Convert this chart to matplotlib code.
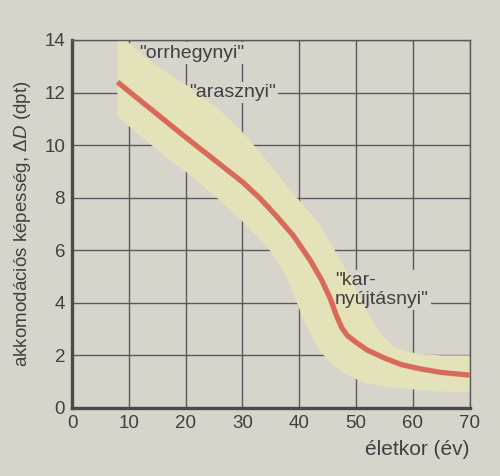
import matplotlib
matplotlib.use("Agg")
import matplotlib.pyplot as plt

# ---- data ----
curve_age = [8, 14, 20, 25, 30, 33, 36, 39, 42, 44, 45.5, 46.5, 47.5, 48.5, 50, 52, 55, 58, 61, 65, 70]
curve_dpt = [12.4, 11.35, 10.3, 9.45, 8.6, 8.0, 7.3, 6.55, 5.6, 4.85, 4.15, 3.55, 3.05, 2.75, 2.5, 2.2, 1.9, 1.65, 1.5, 1.35, 1.25]

band_upper_age = [8, 11, 14.3, 20, 25.7, 30, 33, 36, 39, 42, 44, 46, 47.5, 49.5, 51, 53, 54.5, 56, 57.5, 61, 65, 70]
band_upper_dpt = [14.3, 13.7, 13.1, 12.3, 11.4, 10.5, 9.75, 8.95, 8.15, 7.4, 6.85, 6.1, 5.55, 4.75, 4.05, 3.3, 2.8, 2.45, 2.25, 2.05, 2.0, 2.0]
band_lower_age = [8, 12, 17.4, 20, 25, 30, 33, 35, 37, 39, 40.5, 41.7, 43.5, 45.8, 48, 51, 54, 58, 64, 70]
band_lower_dpt = [11.1, 10.35, 9.4, 9.0, 8.1, 7.1, 6.45, 5.95, 5.3, 4.35, 3.5, 2.95, 2.2, 1.65, 1.3, 1.0, 0.85, 0.75, 0.63, 0.6]

x_ticks = [0, 10, 20, 30, 40, 50, 60, 70]
y_ticks = [0, 2, 4, 6, 8, 10, 12, 14]

labels = ['"orrhegynyi"', '"arasznyi"', '"kar-\nnyújtásnyi"']
label_age = [11.8, 20.6, 46.3]
label_dpt = [13.5, 12.0, 4.5]

x_title = "életkor (év)"
y_title = "akkomodációs képesség, Δ$\\it{D}$ (dpt)"

# ---- style ----
plt.rcParams['font.family'] = ['Liberation Sans', 'DejaVu Sans']
plt.rcParams['mathtext.fontset'] = 'custom'
plt.rcParams['mathtext.it'] = 'Liberation Sans:italic'
plt.rcParams['mathtext.rm'] = 'Liberation Sans'

bg = '#d7d4cc'
band_c = '#e4e2b8'
curve_c = '#d96a5a'
grid_c = '#5a5a5e'
text_c = '#404040'

fig = plt.figure(figsize=(5.0, 4.76), dpi=100, facecolor=bg)
ax = fig.add_axes([0.144, 0.143, 0.795, 0.773])
ax.set_facecolor(bg)

ax.set_xlim(0, 70)
ax.set_ylim(0, 14)
ax.set_xticks(x_ticks)
ax.set_yticks(y_ticks)
ax.tick_params(length=0, labelsize=13.5, colors=text_c, pad=5)
ax.grid(True, color=grid_c, linewidth=1.0, zorder=0)
ax.set_axisbelow(True)

for side in ['left', 'bottom']:
    ax.spines[side].set_linewidth(2.4)
    ax.spines[side].set_color('#4a4a4e')
for side in ['top', 'right']:
    ax.spines[side].set_linewidth(1.0)
    ax.spines[side].set_color(grid_c)

# band
poly_x = band_upper_age + band_lower_age[::-1]
poly_y = band_upper_dpt + band_lower_dpt[::-1]
ax.fill(poly_x, poly_y, color=band_c, linewidth=0, zorder=2)

# curve
ax.plot(curve_age, curve_dpt, color=curve_c, linewidth=3.8,
        solid_capstyle='butt', solid_joinstyle='round', zorder=3)

# annotations: paper-coloured box (cuts grid, below band) + text on top
for txt, xa, ya in zip(labels, label_age, label_dpt):
    ax.text(xa, ya, txt, fontsize=14, color='none', ha='left', va='center',
            linespacing=1.15, zorder=1.5,
            bbox=dict(facecolor=bg, edgecolor='none', pad=1.5))
    ax.text(xa, ya, txt, fontsize=14, color=text_c, ha='left', va='center',
            linespacing=1.15, zorder=4)

ax.set_xlabel(x_title, fontsize=15, color=text_c, loc='right', labelpad=6)
ax.set_ylabel(y_title, fontsize=13.5, color=text_c, labelpad=8)

fig.savefig("out.png", dpi=100, facecolor=bg)
